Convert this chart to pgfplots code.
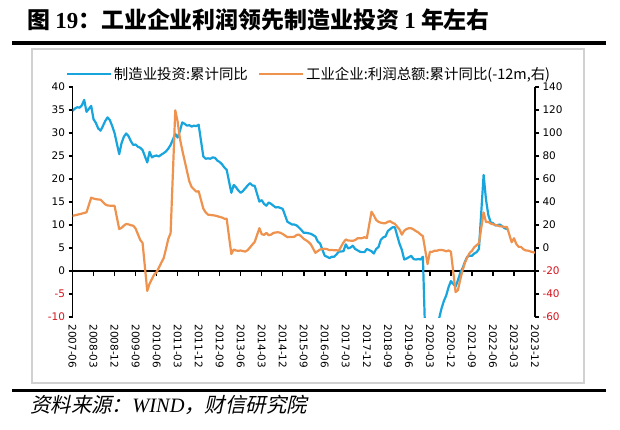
\documentclass[border=0pt]{standalone}
\usepackage{fontspec}
\setmainfont{DejaVu Sans}
\newfontfamily\cjk{Noto Sans CJK SC}
\newfontfamily\cjksl[FakeSlant=0.22]{Noto Sans CJK SC}
\newfontfamily\tnr{Liberation Serif}
\usepackage{pgfplots}
\pgfplotsset{compat=1.18}
\definecolor{blueL}{RGB}{24,165,222}
\definecolor{orangeL}{RGB}{238,146,78}
\definecolor{negred}{RGB}{215,20,30}
\pgfplotsset{myax/.style={
  scale only axis, width=462.5bp, height=230bp,
  at={(72.5bp,112bp)}, anchor=south west,
  xmin=0, xmax=198,
  tick align=outside, major tick length=4bp,
  every tick/.style={black, line width=1.5bp},
  axis line style={line width=1.8bp},
  tick label style={font=\fontsize{10.5}{12}\selectfont},
  /pgf/number format/assume math mode=true,
}}
\begin{document}
\begin{tikzpicture}[x=1bp,y=1bp]
\path[use as bounding box] (0,0) rectangle (620,429);
\fill[white] (0,0) rectangle (620,429);
\node[anchor=west, inner sep=0] at (27,409) {\cjk\bfseries\fontsize{23}{26}\selectfont 图 {\tnr\bfseries 19}：工业企业利润领先制造业投资 {\tnr\bfseries 1} 年左右};
\draw[line width=3.5bp] (12,386) -- (606,386);
\draw[black!18, line width=1.5bp] (32,46) rectangle (584,380);
\draw[line width=3bp] (12,38.5) -- (606,38.5);
\node[anchor=west, inner sep=0] at (30,24) {\cjksl\fontsize{20.5}{23}\selectfont 资料来源：{\tnr\itshape WIND}，财信研究院};

\begin{axis}[myax,
  ymin=-10, ymax=40,
  axis y line*=left, axis x line*=bottom,
  x axis line style={draw=none}, xtick style={draw=none},
  ytick={-10,-5,0,5,10,15,20,25,30,35,40},
  yticklabels={\textcolor{negred}{-10},\textcolor{negred}{-5},0,5,10,15,20,25,30,35,40},
  xtick={0,9,...,198},
  xticklabels={2007-06,2008-03,2008-12,2009-09,2010-06,2011-03,2011-12,2012-09,2013-06,2014-03,2014-12,2015-09,2016-06,2017-03,2017-12,2018-09,2019-06,2020-03,2020-12,2021-09,2022-06,2023-03,2023-12},
  xticklabel style={rotate=-90, anchor=west, xshift=0bp},
]
\draw[line width=1.8bp] (axis cs:0,0) -- (axis cs:198,0);
\pgfplotsinvokeforeach{0,9,18,27,36,45,54,63,72,81,90,99,108,117,126,135,144,153,162,171,180,189,198}{\draw[line width=1.5bp] (axis cs:#1,0) -- (axis cs:#1,-1.1);}
\addplot[blueL, line width=2.2bp, line join=round] coordinates {
(0,34.8)(1,35.3)(2,35.6)(3,35.5)(4,36.0)(5,37.2)(6,34.6)(8,35.9)(9,33.0)(10,32.2)(11,31.0)(12,30.5)(13,31.5)(14,32.6)(15,33.4)(16,32.8)(17,31.5)(18,30.0)
(20,25.4)(21,27.8)(22,29.2)(23,29.9)(24,29.3)(25,28.2)(26,27.4)(27,27.5)(28,27.0)(29,26.8)(30,26.3)
(32,23.6)(33,25.9)(34,24.7)(35,25.0)(36,25.1)(37,24.9)(38,25.3)(39,25.6)(40,26.0)(41,26.6)(42,27.4)
(44,29.8)(45,29.0)(46,30.5)(47,32.3)(48,32.0)(49,31.6)(50,31.7)(51,31.4)(52,31.6)(53,31.5)(54,31.8)
(56,24.9)(57,24.4)(58,24.5)(59,24.4)(60,24.7)(61,24.6)(62,24.0)(63,23.7)(64,23.2)(65,22.5)(66,22.0)
(68,17.0)(69,18.7)(70,18.2)(71,17.5)(72,17.0)(73,17.4)(74,18.0)(75,18.6)(76,19.1)(77,18.6)(78,18.5)
(80,15.1)(81,15.4)(82,14.6)(83,14.2)(84,14.9)(85,14.6)(86,14.2)(87,13.8)(88,13.9)(89,13.7)(90,13.5)
(92,10.7)(93,10.4)(94,10.1)(95,10.1)(96,9.9)(97,9.4)(98,8.9)(99,8.3)(100,8.3)(101,8.2)(102,8.1)
(104,7.5)(105,6.4)(106,6.0)(107,4.6)(108,3.3)(109,3.1)(110,2.8)(111,3.1)(112,3.1)(113,3.6)(114,4.2)
(116,4.3)(117,5.8)(118,4.9)(119,5.1)(120,5.5)(121,4.8)(122,4.5)(123,4.2)(124,4.1)(125,4.1)(126,4.8)
(128,4.3)(129,3.8)(130,4.8)(131,5.2)(132,6.8)(133,7.3)(134,7.5)(135,8.7)(136,9.1)(137,9.5)(138,9.5)
(140,5.9)(141,4.6)(142,2.5)(143,2.7)(144,3.0)(145,3.3)(146,2.6)(147,2.5)(148,2.6)(149,2.5)(150,3.1)
(152,-31.5)(153,-25.2)(154,-18.8)(155,-14.8)(156,-11.7)(157,-10.2)(158,-8.1)(159,-6.5)(160,-5.3)(161,-3.5)(162,-2.2)
(164,-3.4)(165,-2.0)(166,-0.4)(167,0.6)(168,2.0)(169,3.1)(170,3.3)(171,3.3)(172,3.8)(173,4.1)(174,4.8)
(176,20.9)(177,15.6)(178,12.2)(179,10.6)(180,10.4)(181,9.9)(182,10.0)(183,10.1)(184,9.7)(185,9.3)(186,9.1)
};
\end{axis}

\begin{axis}[myax,
  ymin=-60, ymax=140,
  axis y line*=right, axis x line=none,
  ytick={-60,-40,-20,0,20,40,60,80,100,120,140},
  yticklabels={\textcolor{negred}{-60},\textcolor{negred}{-40},\textcolor{negred}{-20},0,20,40,60,80,100,120,140},
  legend style={draw=none, fill=none, font=\cjk\fontsize{14.5}{16}\selectfont,
    at={(0.5,1)}, anchor=south, xshift=5bp, yshift=2bp,
    /tikz/every even column/.append style={column sep=8bp}},
  legend columns=2, legend cell align=left,
  legend image code/.code={\draw[#1] (0bp,0bp) -- (44bp,0bp);},
]
\addlegendimage{blueL, line width=2.5bp}
\addlegendentry{制造业投资:累计同比}
\addplot[orangeL, line width=2.2bp, line join=round] coordinates {
(0,28.0)(1,28.4)(2,28.9)(3,29.4)(4,29.9)(5,30.5)(6,31.0)
(8,43.8)(9,43.0)(10,42.5)(11,42.2)(12,42.0)(13,40.0)(14,38.0)(15,37.0)(16,36.8)(17,36.7)(18,36.7)
(20,16.5)(21,17.5)(22,19.5)(23,20.9)(24,20.5)(25,19.8)(26,19.4)(27,17.0)(28,12.0)(29,7.0)(30,4.4)
(32,-37.3)(33,-31.0)(34,-27.0)(35,-23.0)(36,-21.0)(37,-17.0)(38,-12.8)(39,-9.0)(40,-1.0)(41,7.8)(42,13.0)
(44,119.7)(45,110.0)(46,95.0)(47,85.0)(48,76.0)(49,67.0)(50,58.0)(51,53.0)(52,51.0)(53,49.0)(54,49.4)
(56,34.3)(57,31.0)(58,29.0)(59,28.7)(60,28.5)(61,28.2)(62,27.7)(63,27.0)(64,26.5)(65,25.5)(66,25.4)
(68,-5.2)(69,-1.3)(70,-2.2)(71,-2.4)(72,-2.2)(73,-2.7)(74,-3.1)(75,-1.8)(76,0.5)(77,3.0)(78,5.3)
(80,17.2)(81,12.1)(82,11.4)(83,13.2)(84,11.1)(85,11.6)(86,13.1)(87,13.5)(88,13.7)(89,13.2)(90,12.2)
(92,9.4)(93,9.6)(94,9.6)(95,9.8)(96,11.4)(97,11.6)(98,10.0)(99,7.9)(100,6.7)(101,5.3)(102,3.3)
(104,-4.2)(105,-2.7)(106,-1.3)(107,-0.8)(108,-0.7)(109,-1.0)(110,-1.9)(111,-1.7)(112,-2.0)(113,-1.9)(114,-2.3)
(116,4.8)(117,7.4)(118,6.5)(119,6.4)(120,6.2)(121,6.9)(122,8.4)(123,8.4)(124,8.6)(125,9.4)(126,8.5)
(128,31.5)(129,28.3)(130,24.4)(131,22.7)(132,22.0)(133,21.6)(134,21.6)(135,22.8)(136,23.3)(137,21.9)(138,21.0)
(140,16.1)(141,11.6)(142,15.0)(143,16.5)(144,17.2)(145,17.1)(146,16.2)(147,14.7)(148,13.6)(149,11.8)(150,10.3)
(152,-14.0)(153,-3.3)(154,-3.4)(155,-2.3)(156,-2.4)(157,-1.7)(158,-1.7)(159,-2.1)(160,-2.9)(161,-2.1)(162,-3.3)
(164,-38.3)(165,-36.7)(166,-27.4)(167,-19.3)(168,-12.8)(169,-8.1)(170,-4.4)(171,-2.4)(172,0.7)(173,2.4)(174,4.1)
(176,31.0)(177,22.6)(178,22.7)(179,21.3)(180,20.6)(181,20.2)(182,19.5)(183,18.8)(184,18.8)(185,18.2)(186,18.3)
(188,5.0)(189,8.5)(190,3.5)(191,1.0)(192,1.0)(193,-1.1)(194,-2.1)(195,-2.3)(196,-3.0)(197,-3.6)(198,-4.0)
};
\addlegendentry{工业企业:利润总额:累计同比(-12m,右)}
\end{axis}
\end{tikzpicture}
\end{document}
